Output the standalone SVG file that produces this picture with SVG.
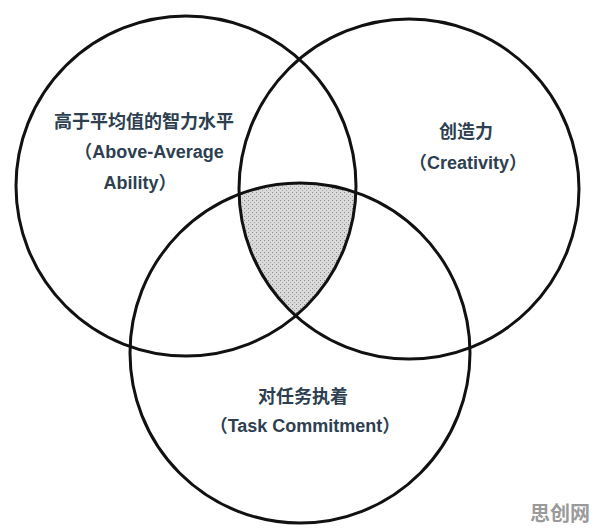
<svg xmlns="http://www.w3.org/2000/svg" width="596" height="531" viewBox="0 0 596 531">
<style>
.ring{fill:none;stroke:#111;stroke-width:3}
.lbl{font-family:"Liberation Sans","Noto Sans CJK SC",sans-serif;font-weight:700;font-size:18px;fill:#2d3f50;text-anchor:middle}
.wm{font-family:"Noto Sans CJK SC",sans-serif;font-weight:700;font-size:20px;fill:#9a9a9a;text-anchor:middle}
</style>
<defs>
<pattern id="dots" width="4" height="4" patternUnits="userSpaceOnUse">
<rect width="4" height="4" fill="#dadada"/>
<rect x="0" y="0" width="1" height="1" fill="#8a8a8a"/>
<rect x="2" y="2" width="1" height="1" fill="#a5a5a5"/>
</pattern>
<clipPath id="cA"><circle cx="186" cy="186" r="170"/></clipPath>
<clipPath id="cB"><circle cx="409" cy="189" r="170"/></clipPath>
</defs>
<rect width="596" height="531" fill="#fff"/>
<g id="shaded">
<g clip-path="url(#cA)"><g clip-path="url(#cB)"><circle cx="300" cy="353" r="170" fill="url(#dots)"/></g></g>
</g>
<g id="ability">
<circle class="ring" cx="186" cy="186" r="170"/>
<text class="lbl" x="144" y="128">高于平均值的智力水平</text>
<text class="lbl" x="149" y="158">（Above-Average</text>
<text class="lbl" x="140" y="189">Ability）</text>
</g>
<g id="creativity">
<circle class="ring" cx="409" cy="189" r="170"/>
<text class="lbl" x="466" y="138">创造力</text>
<text class="lbl" x="468" y="169">（Creativity）</text>
</g>
<g id="commitment">
<circle class="ring" cx="300" cy="353" r="170"/>
<text class="lbl" x="303" y="403">对任务执着</text>
<text class="lbl" x="305" y="432">（Task Commitment）</text>
</g>
<g id="connectors"></g>
<text class="wm" x="560" y="521">思创网</text>
</svg>
